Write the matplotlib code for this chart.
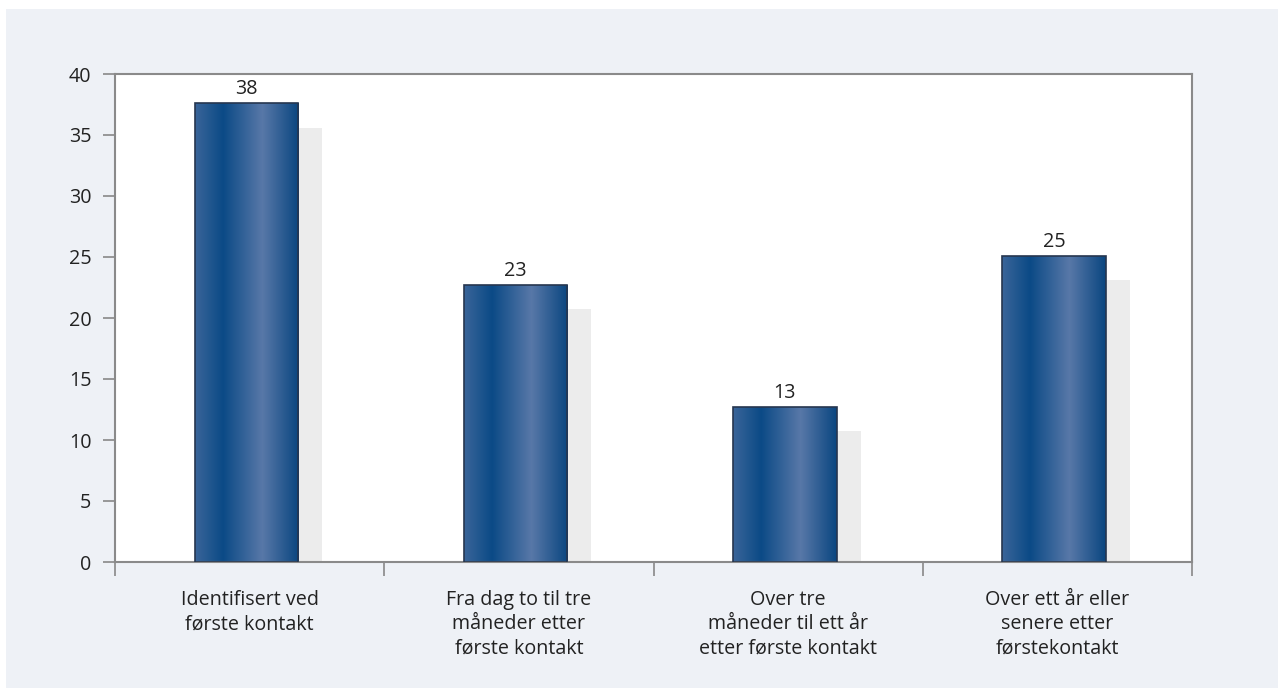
import matplotlib
matplotlib.use("Agg")
import matplotlib.pyplot as plt
import numpy as np
from matplotlib.colors import LinearSegmentedColormap
from matplotlib.patches import Rectangle

categories = ["Identifisert ved\nførste kontakt",
              "Fra dag to til tre\nmåneder etter\nførste kontakt",
              "Over tre\nmåneder til ett år\netter første kontakt",
              "Over ett år eller\nsenere etter\nførstekontakt"]
values = [37.6, 22.7, 12.7, 25.1]
labels = ["38", "23", "13", "25"]
yticks = [0, 5, 10, 15, 20, 25, 30, 35, 40]

plt.rcParams['font.family'] = ['Open Sans', 'DejaVu Sans']
FS = 14.2

W, H = 1278, 688
fig = plt.figure(figsize=(W/100, H/100), dpi=100)
fig.patch.set_facecolor('white')
# background panel
fig.patches.append(Rectangle((6/W, 0), 1 - 6/W, 1 - 9/H, transform=fig.transFigure,
                             facecolor='#eef1f6', edgecolor='none', zorder=-10))

ax = fig.add_axes([115/W, 1 - 562/H, (1192-115)/W, (562-74)/H])
ax.set_facecolor('white')
ax.set_xlim(0, 4)
ax.set_ylim(0, 40)

cmap = LinearSegmentedColormap.from_list('barg', [
    (0.0, '#3a6599'), (0.27, '#0b4a86'), (0.65, '#5878a8'), (1.0, '#0a4680')])
grad = np.linspace(0, 1, 256).reshape(1, -1)

bw = 0.385
off = -0.012
sh_dx = 24 / (1077/4) * 1.0
sh_dy = 2.0
for i, v in enumerate(values):
    x0 = i + 0.5 + off - bw/2
    # shadow
    ax.add_patch(Rectangle((x0 + sh_dx, 0), bw, v - sh_dy, facecolor='#ececec',
                           edgecolor='none', zorder=1))
    im = ax.imshow(grad, cmap=cmap, aspect='auto', extent=(x0, x0 + bw, 0, v),
                   zorder=2, interpolation='bilinear')
    rect = Rectangle((x0, 0), bw, v, facecolor='none', edgecolor='#26364f',
                     linewidth=1.2, zorder=3)
    ax.add_patch(rect)
    im.set_clip_path(rect)
    ax.text(i + 0.5 + off, v + 0.35, labels[i], ha='center', va='bottom',
            fontsize=FS, color='#222222', zorder=4)

ax.set_xlim(0, 4)
ax.set_ylim(0, 40)
ax.set_yticks(yticks)
ax.set_yticklabels([str(t) for t in yticks], fontsize=FS, color='#222222')
ax.set_xticks([0, 1, 2, 3, 4])
ax.set_xticklabels([])
ax.set_xticks([0.5, 1.5, 2.5, 3.5], minor=True)
ax.set_xticklabels(categories, minor=True, fontsize=FS, color='#222222',
                   linespacing=1.3)
ax.tick_params(axis='x', which='minor', length=0, pad=20)
ax.tick_params(axis='x', which='major', length=10, color='#888888', width=1.2)
ax.tick_params(axis='y', length=9, color='#888888', width=1.2, pad=8)
for s in ax.spines.values():
    s.set_color('#8a8a8a')
    s.set_linewidth(1.5)

fig.savefig('out.png', dpi=100, facecolor=fig.get_facecolor())
